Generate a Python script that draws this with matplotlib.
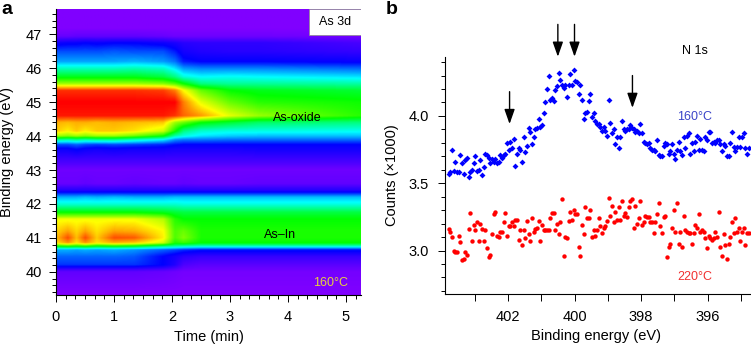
"""Two panel XPS figure: As 3d time map and N 1s spectra."""
import numpy as np
import matplotlib
matplotlib.use("Agg")
import matplotlib.pyplot as plt
from matplotlib.colors import LinearSegmentedColormap
from matplotlib.patches import Rectangle
from matplotlib.ticker import FixedLocator, MultipleLocator

plt.rcParams['font.family'] = ['Liberation Sans', 'DejaVu Sans']
plt.rcParams['font.size'] = 10.5

# panel a, relative intensity
map_times = [0, 0.2, 0.35, 0.5, 0.7, 1.0, 1.35, 1.85, 2.05, 2.2, 2.5, 3.0, 3.5, 5.26]
map_energies = [47.74, 47.2, 46.95, 46.75, 46.5, 46.2, 46.0, 45.75, 45.55, 45.35, 45.0,
                44.6, 44.4, 44.15, 44.0, 43.9, 43.75, 43.6, 43.3, 43.0, 42.6, 42.4, 42.2,
                42.0, 41.75, 41.55, 41.2, 41.0, 40.85, 40.75, 40.65, 40.45, 40.2, 40.0, 39.3]
map_rows = [
    [0, 0, 0, 0, 0, 0, 0, 0, 0, 0, 0, 0, 0, 0],
    [0, 0, 0, 0, 0, 0, 0, 0, 0, 0, 0, 0, 0, 0],
    [.04, .04, .05, .05, .05, .05, .05, .04, .03, .03, .03, .03, .03, .02],
    [.18, .19, .19, .2, .19, .2, .2, .18, .16, .14, .13, .13, .13, .09],
    [.26, .26, .26, .26, .26, .27, .26, .26, .22, .17, .15, .14, .14, .12],
    [.33, .33, .33, .33, .33, .33, .34, .32, .29, .22, .2, .2, .2, .19],
    [.45, .45, .45, .45, .45, .45, .46, .44, .38, .32, .3, .3, .3, .28],
    [.58, .58, .58, .58, .58, .58, .58, .55, .5, .43, .4, .41, .4, .38],
    [.72, .72, .72, .72, .72, .72, .72, .7, .66, .6, .5, .48, .48, .47],
    [.96, .96, .96, .96, .96, .96, .96, .95, .9, .8, .68, .6, .58, .56],
    [1, 1, 1, 1, 1, 1, 1, 1, 1, .9, .78, .68, .63, .61],
    [.98, .98, .98, .98, .98, .98, .98, .98, .96, .92, .88, .78, .72, .63],
    [.86, .85, .86, .86, .85, .86, .85, .84, .72, .68, .6, .56, .52, .5],
    [.84, .81, .84, .81, .84, .84, .82, .76, .62, .5, .44, .42, .42, .41],
    [.72, .7, .72, .7, .72, .72, .68, .6, .46, .42, .38, .36, .35, .35],
    [.5, .48, .5, .48, .5, .5, .46, .4, .32, .3, .3, .29, .29, .29],
    [.26, .26, .28, .26, .25, .26, .25, .23, .21, .2, .2, .2, .2, .2],
    [.18, .18, .2, .18, .17, .18, .17, .17, .16, .16, .16, .16, .17, .17],
    [.1, .1, .1, .1, .1, .1, .1, .1, .1, .1, .1, .1, .1, .1],
    [.03, .03, .03, .03, .03, .03, .03, .03, .03, .03, .03, .03, .03, .03],
    [.04, .04, .04, .05, .04, .04, .05, .04, .04, .05, .04, .04, .05, .05],
    [.15, .15, .15, .15, .15, .15, .15, .15, .15, .15, .15, .15, .15, .15],
    [.34, .34, .34, .35, .34, .35, .34, .34, .35, .35, .35, .35, .35, .35],
    [.43, .43, .43, .43, .43, .43, .43, .43, .43, .42, .42, .42, .42, .42],
    [.6, .6, .6, .6, .6, .6, .6, .58, .56, .55, .55, .55, .55, .55],
    [.79, .79, .79, .79, .79, .79, .79, .74, .63, .6, .6, .6, .6, .6],
    [.83, .87, .83, .87, .82, .87, .86, .8, .66, .68, .62, .62, .62, .62],
    [.85, .94, .85, .94, .84, .94, .93, .81, .66, .7, .62, .62, .62, .62],
    [.82, .88, .82, .88, .82, .86, .84, .76, .62, .64, .6, .6, .6, .6],
    [.6, .62, .6, .62, .58, .6, .58, .5, .48, .46, .44, .44, .44, .44],
    [.34, .34, .33, .34, .33, .34, .32, .28, .26, .24, .22, .22, .22, .22],
    [.28, .28, .28, .28, .28, .28, .27, .2, .17, .14, .12, .12, .12, .12],
    [.24, .24, .24, .24, .24, .24, .24, .2, .15, .08, .06, .06, .06, .06],
    [.05, .05, .05, .05, .05, .05, .05, .04, .03, .02, .02, .02, .02, .02],
    [0, 0, 0, 0, 0, 0, 0, 0, 0, 0, 0, 0, 0, 0],
]

# panel b, counts in thousands
spectrum_start = 403.78
spectrum_end = 394.77
counts_160 = [
    3.57, 3.58, 3.75, 3.59, 3.66, 3.58, 3.58, 3.71, 3.65, 3.57, 3.67, 3.69, 3.55, 3.58,
    3.60, 3.65, 3.70, 3.59, 3.60, 3.67, 3.56, 3.62, 3.72, 3.71, 3.69, 3.65, 3.68, 3.66,
    3.68, 3.65, 3.66, 3.71, 3.69, 3.71, 3.72, 3.80, 3.75, 3.81, 3.76, 3.83, 3.63, 3.72,
    3.76, 3.75, 3.66, 3.84, 3.73, 3.78, 3.91, 3.88, 3.79, 3.84, 3.90, 3.91, 3.98, 3.92,
    3.93, 4.02, 4.10, 4.20, 4.30, 4.12, 4.13, 4.11, 4.19, 4.22, 4.32, 4.27, 4.23, 4.21,
    4.23, 4.14, 4.23, 4.31, 4.23, 4.34, 4.26, 4.25, 4.16, 4.23, 4.12, 3.98, 4.02, 4.03,
    4.11, 4.16, 3.99, 4.02, 3.96, 3.94, 3.94, 3.92, 3.89, 3.92, 3.89, 3.85, 4.12, 3.95,
    3.87, 3.90, 3.79, 3.84, 3.76, 3.84, 3.96, 3.90, 3.89, 3.90, 3.90, 3.93, 3.91, 3.90,
    3.88, 3.89, 3.87, 3.94, 3.87, 3.81, 3.80, 3.79, 3.80, 3.76, 3.75, 3.75, 3.74, 3.82,
    3.71, 3.70, 3.70, 3.78, 3.80, 3.79, 3.72, 3.74, 3.79, 3.72, 3.68, 3.75, 3.81, 3.74,
    3.71, 3.84, 3.76, 3.85, 3.87, 3.72, 3.80, 3.74, 3.81, 3.85, 3.75, 3.83, 3.75, 3.74,
    3.84, 3.82, 3.88, 3.88, 3.80, 3.81, 3.80, 3.82, 3.82, 3.79, 3.74, 3.79, 3.78, 3.70,
    3.70, 3.80, 3.88, 3.77, 3.74, 3.77, 3.84, 3.77, 3.84, 3.87, 3.76, 3.72, 3.76,
]
counts_220 = [
    3.16, 3.14, 3.10, 3.00, 2.99, 2.99, 3.11, 3.06, 2.93, 2.94, 2.99, 2.97, 3.16, 3.28,
    3.07, 3.19, 3.15, 3.21, 3.07, 3.20, 3.16, 3.07, 3.15, 3.02, 2.95, 2.97, 3.12, 3.27,
    3.29, 3.11, 3.10, 3.14, 3.14, 3.21, 3.28, 3.11, 3.18, 3.18, 3.21, 3.18, 3.23, 3.23,
    3.08, 3.15, 3.04, 3.15, 3.09, 3.22, 3.12, 3.07, 3.24, 3.14, 3.16, 3.17, 3.22, 3.07,
    3.19, 3.15, 3.15, 3.15, 3.15, 3.24, 3.28, 3.28, 3.15, 3.20, 3.12, 3.21, 3.38, 2.96,
    3.10, 3.09, 3.22, 3.29, 3.23, 3.30, 3.27, 3.27, 3.03, 2.96, 3.19, 3.12, 3.32, 3.24,
    3.24, 3.30, 3.10, 3.15, 3.11, 3.15, 3.24, 3.18, 3.13, 3.17, 3.18, 3.22, 3.39, 3.26,
    3.33, 3.21, 3.29, 3.23, 3.32, 3.23, 3.37, 3.26, 3.28, 3.25, 3.32, 3.37, 3.38, 3.17,
    3.33, 3.20, 3.24, 3.37, 3.19, 3.21, 3.26, 3.25, 3.25, 3.21, 3.21, 3.13, 3.21, 3.27,
    3.35, 3.18, 3.13, 3.25, 3.26, 2.95, 3.03, 3.05, 3.17, 3.30, 3.14, 3.35, 3.05, 3.14,
    3.03, 3.26, 3.15, 3.14, 3.13, 3.13, 3.05, 3.13, 3.19, 3.17, 3.27, 3.14, 3.15, 3.14,
    3.09, 3.02, 3.11, 3.09, 3.08, 3.09, 3.14, 3.10, 3.29, 3.03, 2.96, 3.12, 3.04, 2.94,
    3.05, 3.10, 3.21, 3.13, 3.24, 3.14, 3.17, 3.07, 3.14, 3.17, 3.04, 3.13, 3.13,
]
arrow_energies = [401.95, 400.5, 400.0, 398.26]
arrow_tips = [3.94, 4.44, 4.44, 4.06]

W, H = 751, 345
rainbow = LinearSegmentedColormap.from_list(
    'rainbow_map', ['#8000ff', '#0000ff', '#00ffff', '#00ff00', '#ffff00', '#ff0000'])


def axes_box(left, top, right, bottom):
    return [left / W, 1 - bottom / H, (right - left) / W, (bottom - top) / H]


def style_axes(ax):
    ax.spines['top'].set_visible(False)
    ax.spines['right'].set_visible(False)
    ax.tick_params(which='major', direction='out', length=5, width=0.7, labelsize=10.5)
    ax.tick_params(which='minor', direction='out', length=3.2, width=0.7)
    ax.tick_params(axis='x', which='major', pad=6)
    for s in ax.spines.values():
        s.set_linewidth(0.8)
    ax.xaxis.label.set_va('center')
    ax.yaxis.label.set_va('center')


fig = plt.figure(figsize=(W / 100, H / 100), dpi=100)

# ---- panel a
ax1 = fig.add_axes(axes_box(56, 9, 361, 295))
z = np.array(map_rows, dtype=float)
fine_t = np.linspace(map_times[0], map_times[-1], 400)
fine_e = np.linspace(map_energies[-1], map_energies[0], 500)
by_time = np.array([np.interp(fine_t, map_times, row) for row in z])
image = np.array([np.interp(fine_e, map_energies[::-1], col[::-1]) for col in by_time.T]).T
ax1.imshow(image, origin='lower', aspect='auto', cmap=rainbow, vmin=0, vmax=1,
           extent=[map_times[0], map_times[-1], map_energies[-1], map_energies[0]],
           interpolation='bilinear')
ax1.set_xlim(0, 5.26)
ax1.set_ylim(39.32, 47.74)
ax1.set_xlabel('Time (min)')
ax1.set_ylabel('Binding energy (eV)')
style_axes(ax1)
ax1.tick_params(axis='y', which='major', pad=5)
ax1.xaxis.set_major_locator(MultipleLocator(1))
ax1.xaxis.set_minor_locator(MultipleLocator(1 / 6))
ax1.yaxis.set_major_locator(MultipleLocator(1))
ax1.yaxis.set_minor_locator(MultipleLocator(0.2))
ax1.xaxis.set_label_coords(0.5, (295 - 337) / 286)
ax1.yaxis.set_label_coords((7 - 56) / 305, 0.5)
ax1.add_patch(Rectangle((309 / W, 1 - 35 / H), 52 / W, 26 / H, transform=fig.transFigure,
                        facecolor='white', edgecolor='#888888', linewidth=0.5, zorder=5))
fig.text(335 / W, 1 - 22 / H, 'As 3d', ha='center', va='center', fontsize=9, zorder=6)
fig.text(297 / W, 1 - 118 / H, 'As-oxide', ha='center', va='center', fontsize=9)
fig.text(280 / W, 1 - 235 / H, 'As\u2013In', ha='center', va='center', fontsize=9)
fig.text(331 / W, 1 - 283 / H, '160°C', ha='center', va='center', fontsize=9, color='#e6d23c')

# ---- panel b
ax2 = fig.add_axes(axes_box(445.3, 56.7, 750, 294.3))
energy_160 = np.linspace(spectrum_start, spectrum_end, len(counts_160))
energy_220 = np.linspace(spectrum_start, spectrum_end, len(counts_220))
ax2.scatter(energy_160, counts_160, marker='D', s=9, color='#0000ff', linewidths=0, clip_on=False)
ax2.scatter(energy_220, counts_220, marker='o', s=10, color='#ff0000', linewidths=0, clip_on=False)
ax2.set_xlim(403.88, 394.73)
ax2.set_ylim(2.675, 4.44)
ax2.set_xlabel('Binding energy (eV)')
ax2.set_ylabel('Counts (×1000)')
style_axes(ax2)
ax2.tick_params(axis='y', which='major', pad=7)
ax2.xaxis.set_major_locator(FixedLocator([402, 400, 398, 396]))
ax2.xaxis.set_minor_locator(MultipleLocator(1))
ax2.yaxis.set_major_locator(FixedLocator([3.0, 3.5, 4.0]))
ax2.yaxis.set_major_formatter('{x:.1f}')
ax2.yaxis.set_minor_locator(MultipleLocator(0.1))
ax2.tick_params(axis='x', which='minor', length=5)
ax2.xaxis.set_label_coords(0.495, (294.3 - 336) / 237.6)
ax2.yaxis.set_label_coords((392 - 445.3) / 304.7, 0.5)
for e, tip in zip(arrow_energies, arrow_tips):
    ax2.annotate('', xy=(e, tip), xytext=(e, tip + 0.24), annotation_clip=False,
                 arrowprops=dict(arrowstyle='-|>,head_width=0.3,head_length=0.85',
                                 color='black', lw=1.0, shrinkA=0, shrinkB=0))
fig.text(695 / W, 1 - 51 / H, 'N 1s', ha='center', va='center', fontsize=9)
fig.text(695 / W, 1 - 117 / H, '160°C', ha='center', va='center', fontsize=9, color='#3a44c8')
fig.text(695 / W, 1 - 277 / H, '220°C', ha='center', va='center', fontsize=9, color='#f03030')

fig.text(1 / W, 1 - 10 / H, 'a', fontsize=14, fontweight='bold', va='center')
fig.text(386 / W, 1 - 9 / H, 'b', fontsize=14, fontweight='bold', va='center')

fig.savefig('out.png', dpi=100)
